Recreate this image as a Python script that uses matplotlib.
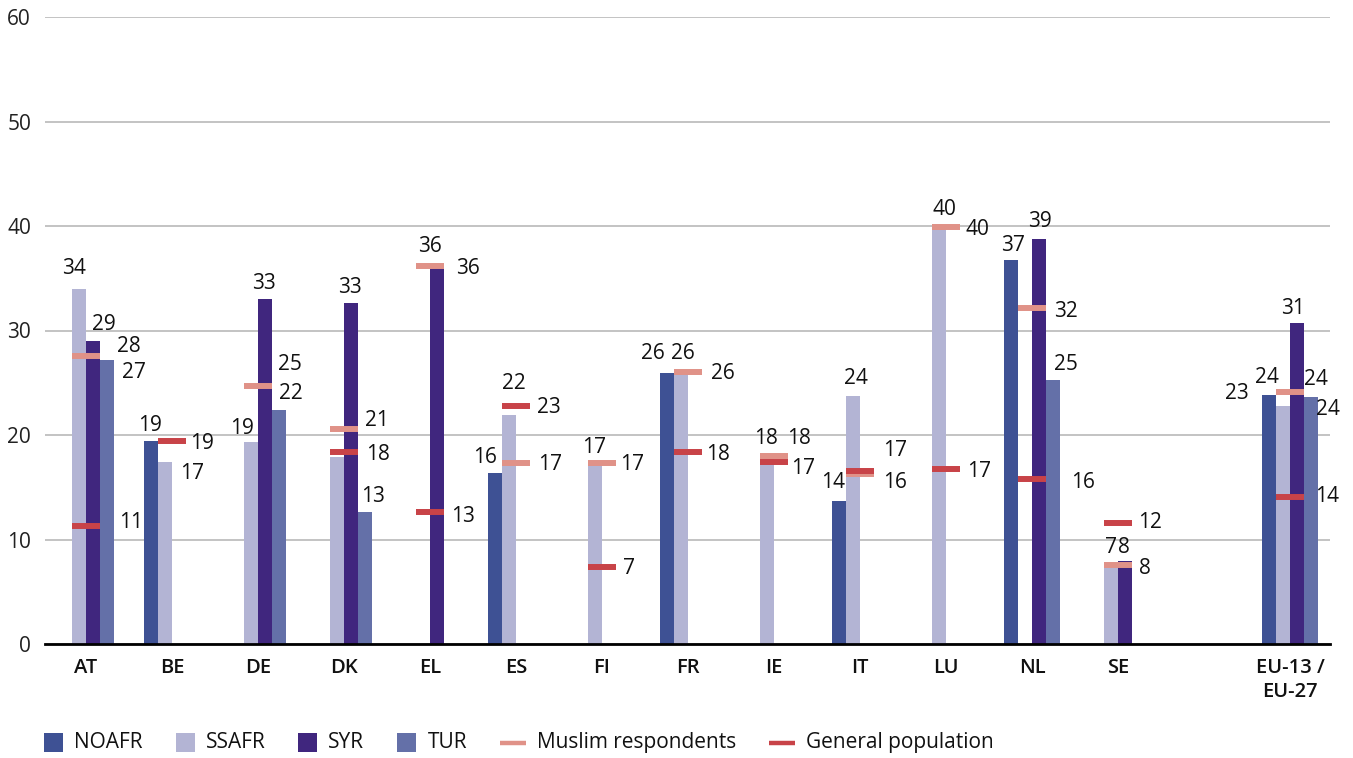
import numpy as np
import matplotlib
matplotlib.use("Agg")
import matplotlib.pyplot as plt
from matplotlib.patches import Rectangle
from matplotlib.lines import Line2D
from matplotlib.offsetbox import DrawingArea, TextArea, HPacker, AnchoredOffsetbox

plt.rcParams['font.family'] = ['Open Sans', 'DejaVu Sans']

# ---------------- data ----------------
categories = ["AT", "BE", "DE", "DK", "EL", "ES", "FI", "FR", "IE", "IT", "LU", "NL", "SE", "EU-13 /\nEU-27"]
slots = [0, 1, 2, 3, 4, 5, 6, 7, 8, 9, 10, 11, 12, 14]   # empty slot before EU total

nan = np.nan
noafr = [nan, 19.4, nan, nan, nan, 16.4, nan, 25.9, nan, 13.7, nan, 36.7, nan, 23.8]
ssafr = [34.0, 17.4, 19.3, 17.9, nan, 21.9, 17.2, 25.9, 17.8, 23.7, 39.9, nan, 7.3, 22.8]
syr = [29.0, nan, 33.0, 32.6, 36.2, nan, nan, nan, nan, nan, nan, 38.8, 7.9, 30.7]
tur = [27.2, nan, 22.4, 12.6, nan, nan, nan, nan, nan, nan, nan, 25.3, nan, 23.6]
muslim = [27.6, nan, 24.7, 20.6, 36.2, 17.3, 17.3, 26.0, 18.0, 16.3, 39.9, 32.2, 7.6, 24.1]
general = [11.3, 19.4, nan, 18.4, 12.6, 22.8, 7.4, 18.4, 17.4, 16.6, 16.7, 15.8, 11.6, 14.1]

bar_names = ["NOAFR", "SSAFR", "SYR", "TUR"]
bar_colors = ["#3e5194", "#b3b4d4", "#40267e", "#6470a8"]
marker_names = ["Muslim respondents", "General population"]
marker_colors = ["#e09288", "#c84348"]

# ---------------- label placement (pixel offsets, layout only) ----------------
# bar labels: (dx, dy) of label centre from bar top-centre; None = no label
bar_label_off = [
    [None, (-1, -18), None, None, None, (-10, -17.5), None, (-14.5, -21.5), None, (-6, -20), None, (2, -16.7), None, (-2, -20)],
    [(-5, -22.5), (27, 9.5), (-9.5, -15.5), None, None, (5, -34), (-1, -18.5), (1.5, -22), (-1.5, -21), (3, -20), (5, -20), None, (0, -22.7), (-46, -14.7)],
    [(11, -18), None, (-1, -17.5), (-1, -18), (-7.5, -21.5), None, None, None, None, None, None, (1, -19), (-1.5, -16), (-3.7, -16.3)],
    [(27, 11), None, (12, -18), (8, -17.5), None, None, None, None, None, None, None, (13, -16.7), None, (16.7, 10.3)],
]
# marker labels: (left edge from category centre, dy of label centre from marker)
marker_label_off = [
    [(31, -11), None, (20, -23), (21, -10), (26, 1), (22, -1), (18, -1), (23, -1), (13, -19), (23, 7), (20, 0), (22, 2), (21.5, 2), (14, -14.3)],
    [(33, -5), (18, 0), None, (22, 1), (21, 2), (21, 0), (21, 0), (18, 1), (17, 4), (23, -22.5), (21, 0), (39.5, 2), (20, -2), (25.4, -1.7)],
]

# ---------------- figure ----------------
W, H = 1353, 758
fig = plt.figure(figsize=(W / 100, H / 100), dpi=100)
ax = fig.add_axes([45 / W, 1 - 644 / H, (1330 - 45) / W, (644 - 17) / H])

x = np.array(slots, dtype=float)
bw = 14 / 86
FS = 15
HALF_CAP = 7.5  # px

bar_series = [noafr, ssafr, syr, tur]
for k, (vals, col) in enumerate(zip(bar_series, bar_colors)):
    v = np.array(vals, dtype=float)
    m = ~np.isnan(v)
    xs = x + (k - 1.5) * bw
    ax.bar(xs[m], v[m], width=bw, color=col, linewidth=0, zorder=2)
    for i in np.where(m)[0]:
        off = bar_label_off[k][i]
        if off is None:
            continue
        ax.annotate(f"{v[i]:.0f}", xy=(xs[i], v[i]), xytext=(off[0], -(off[1] + HALF_CAP)),
                    textcoords="offset pixels", ha="center", va="baseline",
                    fontsize=FS, color="#111111", zorder=5)

for k, (vals, col) in enumerate(zip([muslim, general], marker_colors)):
    v = np.array(vals, dtype=float)
    m = ~np.isnan(v)
    ax.hlines(v[m], x[m] - bw, x[m] + bw, colors=col, linewidth=4.3, zorder=3 + k)
    for i in np.where(m)[0]:
        off = marker_label_off[k][i]
        if off is None:
            continue
        ax.annotate(f"{v[i]:.0f}", xy=(x[i], v[i]), xytext=(off[0], -(off[1] + HALF_CAP)),
                    textcoords="offset pixels", ha="left", va="baseline",
                    fontsize=FS, color="#111111", zorder=5)

# axes styling
ax.set_xlim((45 - 86) / 86, (1330 - 86) / 86)
ax.set_ylim(0, 60)
ax.set_yticks(np.arange(0, 61, 10))
ax.set_xticks(x)
ax.set_xticklabels(categories, fontsize=14.5, fontweight="semibold", linespacing=1.3)
ax.tick_params(axis="x", length=0, pad=10, colors="#111111")
ax.tick_params(axis="y", length=0, pad=10, labelsize=FS, colors="#222222")
ax.yaxis.grid(True, color="#b3b3b3", linewidth=1.1)
ax.set_axisbelow(True)
for s in ["top", "right", "left"]:
    ax.spines[s].set_visible(False)
ax.spines["bottom"].set_linewidth(2.0)
ax.spines["bottom"].set_color("#000000")
ax.spines["bottom"].set_zorder(6)

# ---------------- legend ----------------
entries = []
for name, col in zip(bar_names, bar_colors):
    da = DrawingArea(13.7, 13.0, 0, 0)
    da.add_artist(Rectangle((0, 0), 13.7, 13.0, facecolor=col, linewidth=0))
    ta = TextArea(name, textprops=dict(fontsize=FS, color="#111111"))
    entries.append(HPacker(children=[da, ta], sep=7.9, align="center", pad=0))
for name, col in zip(marker_names, marker_colors):
    da = DrawingArea(18.7, 13.0, 0, 0)
    da.add_artist(Line2D([0, 18.7], [6.5, 6.5], color=col, linewidth=3.2, solid_capstyle="butt"))
    ta = TextArea(name, textprops=dict(fontsize=FS, color="#111111"))
    entries.append(HPacker(children=[da, ta], sep=7.9, align="center", pad=0))
box = HPacker(children=entries, sep=23.8, align="center", pad=0)
anch = AnchoredOffsetbox(loc="center left", child=box, pad=0, borderpad=0, frameon=False,
                         bbox_to_anchor=(44 / W, 1 - 742.5 / H), bbox_transform=fig.transFigure)
fig.add_artist(anch)

fig.savefig("out.png", dpi=100)
